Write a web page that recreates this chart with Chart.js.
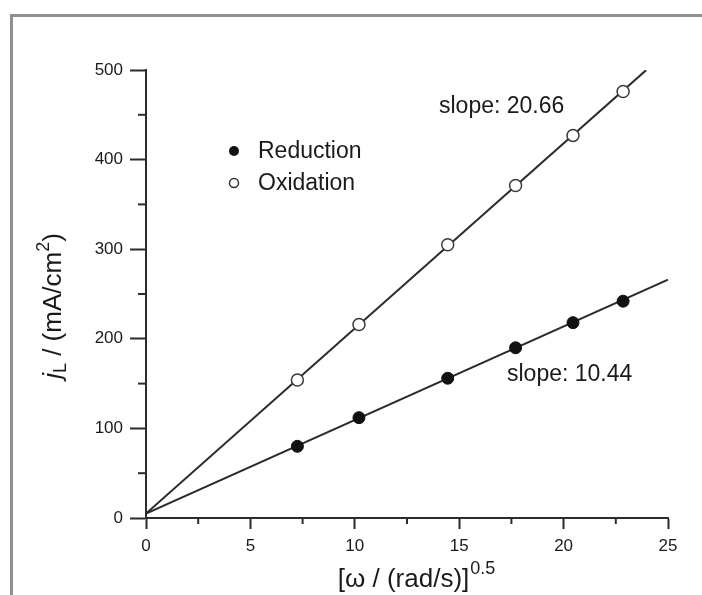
<!DOCTYPE html>
<html>
<head>
<meta charset="utf-8">
<script src="https://cdn.jsdelivr.net/npm/chart.js@4.4.1/dist/chart.umd.min.js"></script>
<style>
  html, body { margin: 0; padding: 0; background: #fff; }
  #wrap { position: relative; width: 702px; height: 595px; overflow: hidden; }
  #frame { position: absolute; left: 10px; top: 14px; width: 720px; height: 620px;
           border-top: 3px solid #8f8f8f; border-left: 3px solid #8f8f8f; box-sizing: border-box; }
  canvas { position: absolute; left: 0; top: 0; }
</style>
</head>
<body>
<div id="wrap">
  <div id="frame"></div>
  <canvas id="c" width="702" height="595"></canvas>
</div>
<script>
// Levich plot: limiting current density vs square root of rotation rate
const omegaSqrt = [7.25, 10.2, 14.45, 17.7, 20.45, 22.85];
const reduction = [80, 112, 156, 190, 218, 242];
const oxidation = [154, 216, 305, 371, 427, 476];

// linear fits (slope labels), common intercept, and x-extent of each fit line
const slopes = { reduction: 10.44, oxidation: 20.66 };
const intercept = 5;
const fitEnd = { reduction: 25, oxidation: 23.95 };

const xTicks = [0, 5, 10, 15, 20, 25];
const yTicks = [0, 100, 200, 300, 400, 500];

const INK = '#2b2b2b';
const TEXT = '#1a1a1a';
const FONT = '"Liberation Sans", Arial, sans-serif';

function pts(ys) { return omegaSqrt.map((x, i) => ({ x, y: ys[i] })); }
function fitLine(key) {
  return [0, fitEnd[key]].map(x => ({ x, y: intercept + slopes[key] * x }));
}

// minor ticks, legend, slope labels and axis titles
const decorations = {
  id: 'decorations',
  afterDraw(chart) {
    const { ctx, scales: { x, y } } = chart;
    ctx.save();
    ctx.strokeStyle = INK;
    ctx.lineWidth = 2;
    // minor ticks halfway between the major ones
    for (let i = 0; i < xTicks.length - 1; i++) {
      const px = x.getPixelForValue((xTicks[i] + xTicks[i + 1]) / 2);
      ctx.beginPath(); ctx.moveTo(px, y.bottom); ctx.lineTo(px, y.bottom + 6); ctx.stroke();
    }
    for (let i = 0; i < yTicks.length - 1; i++) {
      const py = y.getPixelForValue((yTicks[i] + yTicks[i + 1]) / 2);
      ctx.beginPath(); ctx.moveTo(x.left, py); ctx.lineTo(x.left - 8, py); ctx.stroke();
    }

    // legend
    ctx.font = '23px ' + FONT;
    ctx.textBaseline = 'middle';
    ctx.textAlign = 'left';
    const lx = 234, ly1 = 151, ly2 = 183;
    ctx.beginPath(); ctx.arc(lx, ly1, 5, 0, Math.PI * 2); ctx.fillStyle = '#111'; ctx.fill();
    ctx.beginPath(); ctx.arc(lx, ly2, 4.5, 0, Math.PI * 2);
    ctx.fillStyle = '#fff'; ctx.fill(); ctx.lineWidth = 1.5; ctx.strokeStyle = '#333'; ctx.stroke();
    ctx.fillStyle = TEXT;
    ctx.fillText(chart.data.datasets[0].label, 258, ly1 + 1);
    ctx.fillText(chart.data.datasets[1].label, 258, ly2 + 1);

    // slope labels
    ctx.font = '23px ' + FONT;
    ctx.fillText('slope: ' + slopes.oxidation.toFixed(2), 439, 107);
    ctx.fillText('slope: ' + slopes.reduction.toFixed(2), 507, 375);

    // x-axis title with superscript
    const big = '26px ' + FONT, small = '18px ' + FONT;
    ctx.textBaseline = 'alphabetic';
    ctx.font = big;
    const xt = '[\u03c9 / (rad/s)]';
    const w1 = ctx.measureText(xt).width;
    ctx.font = small;
    const w2 = ctx.measureText('0.5').width;
    let sx = 416 - (w1 + w2) / 2;
    ctx.font = big; ctx.fillText(xt, sx, 587);
    ctx.font = small; ctx.fillText('0.5', sx + w1 + 1, 574);

    // y-axis title: italic j with subscript L, superscript 2
    ctx.translate(61, 306);
    ctx.rotate(-Math.PI / 2);
    const parts = [
      { t: 'j', f: 'italic 26px ' + FONT, dy: 0 },
      { t: 'L', f: small, dy: 5 },
      { t: ' / (mA/cm', f: big, dy: 0 },
      { t: '2', f: small, dy: -12 },
      { t: ')', f: big, dy: 0 }
    ];
    let total = 0;
    parts.forEach(p => { ctx.font = p.f; p.w = ctx.measureText(p.t).width; total += p.w; });
    let cx = -total / 2;
    parts.forEach(p => { ctx.font = p.f; ctx.fillText(p.t, cx, p.dy); cx += p.w; });
    ctx.restore();
  }
};

new Chart(document.getElementById('c'), {
  type: 'scatter',
  data: {
    datasets: [
      { label: 'Reduction', data: pts(reduction), pointRadius: 6, pointHoverRadius: 6,
        backgroundColor: '#111', borderColor: '#111', borderWidth: 1, order: 1 },
      { label: 'Oxidation', data: pts(oxidation), pointRadius: 6, pointHoverRadius: 6,
        backgroundColor: '#fff', borderColor: '#3a3a3a', borderWidth: 1.5, order: 1 },
      { label: 'fit reduction', type: 'line', data: fitLine('reduction'), showLine: true,
        pointRadius: 0, borderColor: INK, borderWidth: 2, fill: false, order: 2 },
      { label: 'fit oxidation', type: 'line', data: fitLine('oxidation'), showLine: true,
        pointRadius: 0, borderColor: INK, borderWidth: 2, fill: false, order: 2 }
    ]
  },
  options: {
    responsive: false,
    animation: false,
    events: [],
    layout: { padding: { left: 0, right: 34, top: 70, bottom: 0 } },
    plugins: { legend: { display: false }, tooltip: { enabled: false } },
    scales: {
      x: {
        type: 'linear', min: 0, max: 25,
        afterBuildTicks: s => { s.ticks = xTicks.map(v => ({ value: v })); },
        afterFit: s => { s.height = 77; },
        grid: { drawOnChartArea: false, drawTicks: true, tickLength: 11, color: INK, tickWidth: 2 },
        border: { color: INK, width: 2 },
        ticks: { color: TEXT, padding: 7, font: { family: FONT, size: 17 }, maxRotation: 0 }
      },
      y: {
        type: 'linear', min: 0, max: 500,
        afterBuildTicks: s => { s.ticks = yTicks.map(v => ({ value: v })); },
        afterFit: s => { s.width = 146; },
        grid: { drawOnChartArea: false, drawTicks: true, tickLength: 16, color: INK, tickWidth: 2 },
        border: { color: INK, width: 2 },
        ticks: { color: TEXT, padding: 7, font: { family: FONT, size: 17 } }
      }
    }
  },
  plugins: [decorations]
});
</script>
</body>
</html>
